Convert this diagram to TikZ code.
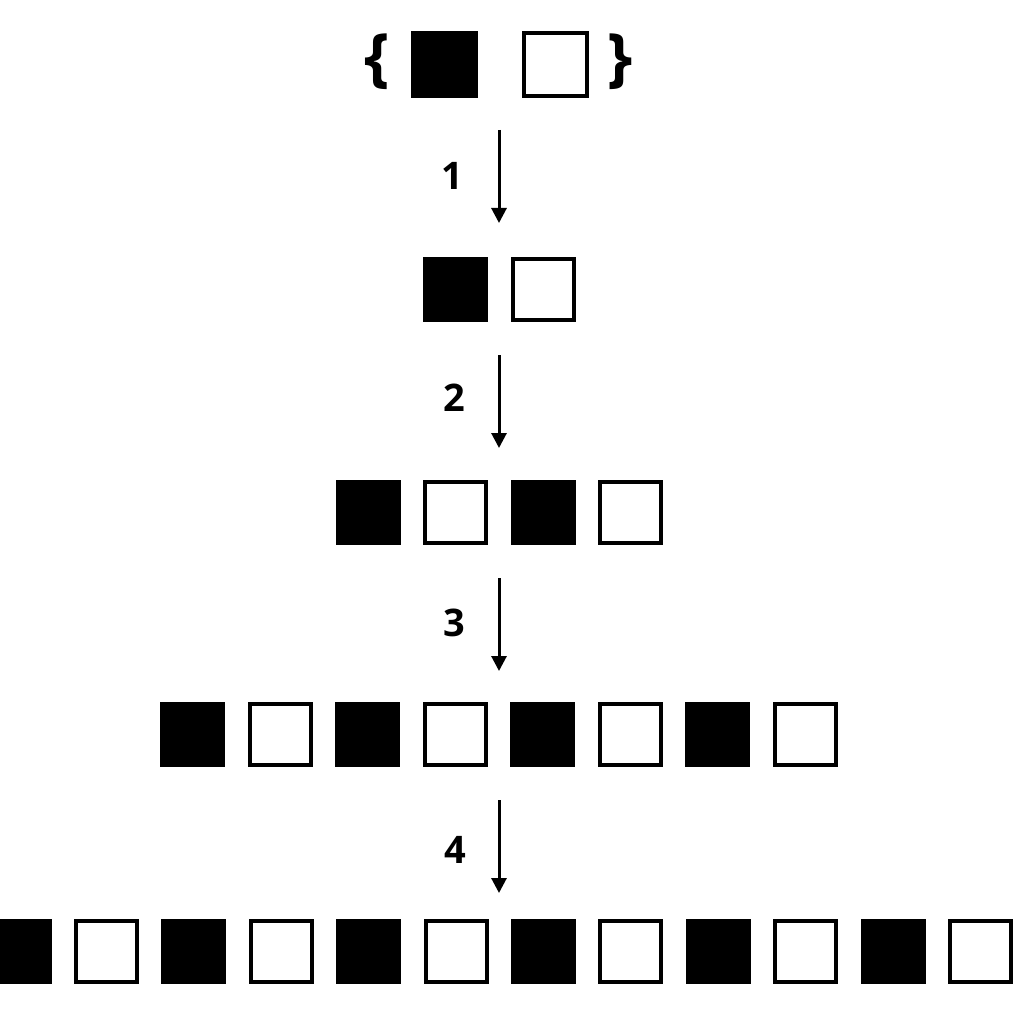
\documentclass[tikz,border=0pt]{standalone}
\usepackage{fontspec}
\setmainfont{Open Sans}
\usetikzlibrary{arrows.meta}
\begin{document}
\begin{tikzpicture}[x=1pt,y=-1pt,
  sq/.style={draw=black,line width=4pt,minimum size=61pt,inner sep=0pt,outer sep=0pt},
  bk/.style={sq,fill=black},
  wh/.style={sq,fill=white},
  tbk/.style={bk,minimum size=63pt},
  twh/.style={wh,minimum size=63pt},
  lbl/.style={font=\bfseries\fontsize{38}{46}\selectfont,inner sep=0pt},
  brc/.style={font=\bfseries\fontsize{64}{70}\selectfont,inner sep=0pt},
  arr/.style={line width=3pt,-{Triangle[length=15pt,width=15pt]}}]
\useasboundingbox (0,0) rectangle (1024,1024);
% row 1
\node[tbk] (t1) at (444,65) {};
\node[twh] (t2) at (555,65) {};
\node[brc] (lb) at (377,62) {\{};
\node[brc] (rb) at (620,62) {\}};
% row 2
\foreach \i in {0,1} {
  \pgfmathsetmacro\xx{455+88*\i}
  \ifodd\i \node[wh] (r2-\i) at (\xx,289.5) {}; \else \node[bk] (r2-\i) at (\xx,289.5) {}; \fi
}
% row 3
\foreach \i in {0,...,3} {
  \pgfmathsetmacro\xx{368+87.5*\i}
  \ifodd\i \node[wh] (r3-\i) at (\xx,512) {}; \else \node[bk] (r3-\i) at (\xx,512) {}; \fi
}
% row 4
\foreach \i in {0,...,7} {
  \pgfmathsetmacro\xx{192.5+87.5*\i}
  \ifodd\i \node[wh] (r4-\i) at (\xx,734) {}; \else \node[bk] (r4-\i) at (\xx,734) {}; \fi
}
% row 5
\foreach \i in {0,...,11} {
  \pgfmathsetmacro\xx{19+87.4*\i}
  \ifodd\i \node[wh] (r5-\i) at (\xx,951.5) {}; \else \node[bk] (r5-\i) at (\xx,951.5) {}; \fi
}
% arrows
\coordinate (a1s) at (499,130); \coordinate (a1e) at (499,223);
\coordinate (a2s) at (499,355); \coordinate (a2e) at (499,448);
\coordinate (a3s) at (499,578); \coordinate (a3e) at (499,671);
\coordinate (a4s) at (499,800); \coordinate (a4e) at (499,893);
\draw[arr] (a1s) -- (a1e);
\draw[arr] (a2s) -- (a2e);
\draw[arr] (a3s) -- (a3e);
\draw[arr] (a4s) -- (a4e);
\node[lbl] (l1) at (452,176) {1};
\node[lbl] (l2) at (454,398) {2};
\node[lbl] (l3) at (454,623) {3};
\node[lbl] (l4) at (455,850) {4};
\end{tikzpicture}
\end{document}
